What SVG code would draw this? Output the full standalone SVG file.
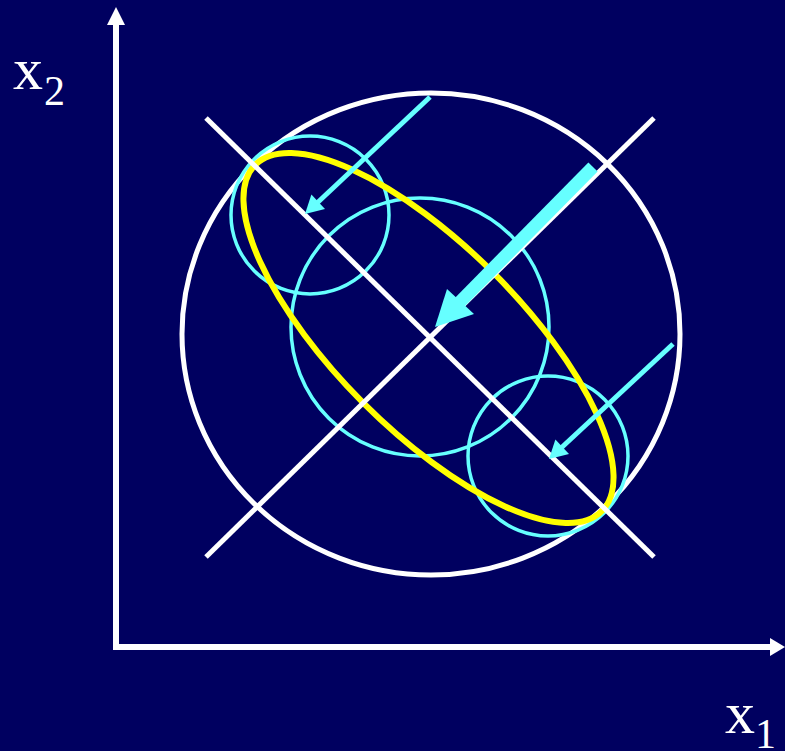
<svg xmlns="http://www.w3.org/2000/svg" width="785" height="751" viewBox="0 0 785 751">
<style>
.w{fill:none;stroke:#ffffff;stroke-width:5}
.c{fill:none;stroke:#66ffff;stroke-width:3.5}
.y{fill:none;stroke:#ffff00;stroke-width:6}
.ca{stroke:#66ffff;stroke-width:5;stroke-linecap:butt}
.ch{fill:#66ffff}
.ax{stroke:#ffffff;stroke-width:6}
.lbl{font-family:"Liberation Serif","Times New Roman",serif;fill:#ffffff}
</style>
<rect x="0" y="0" width="785" height="751" fill="#000060"/>
<g id="axes">
<line class="ax" x1="116" y1="650" x2="116" y2="22"/>
<polygon fill="#ffffff" points="116,7 107,25 125,25"/>
<line class="ax" x1="113" y1="647" x2="772" y2="647"/>
<polygon fill="#ffffff" points="785,647 770,638 770,656"/>
</g>
<g id="label-x2">
<text class="lbl" x="13" y="89" font-size="60">x</text>
<text class="lbl" x="44" y="105" font-size="42">2</text>
</g>
<g id="label-x1">
<text class="lbl" x="725" y="733" font-size="60">x</text>
<text class="lbl" x="755" y="748" font-size="42">1</text>
</g>
<g id="outer-circle">
<ellipse class="w" cx="431" cy="334" rx="249" ry="241"/>
</g>
<g id="cyan-circle-upper">
<circle class="c" cx="310" cy="215" r="79"/>
</g>
<g id="cyan-circle-middle">
<circle class="c" cx="420" cy="327" r="129"/>
</g>
<g id="cyan-circle-lower">
<circle class="c" cx="548" cy="456" r="80"/>
</g>
<g id="yellow-ellipse">
<ellipse class="y" cx="428.5" cy="338" rx="245" ry="92" transform="rotate(45 428.5 338)"/>
</g>
<g id="diagonals">
<line class="w" x1="206" y1="118" x2="654" y2="557"/>
<line class="w" x1="654" y1="118" x2="206" y2="557"/>
</g>
<g id="connectors">
<line class="ca" x1="430" y1="97" x2="316" y2="204"/>
<polygon class="ch" points="305,214 325,209 311.4,194.4"/>
<line class="ca" x1="673" y1="344" x2="560" y2="449"/>
<polygon class="ch" points="549,459 569,454 555.4,439.5"/>
<line stroke="#66ffff" stroke-width="13" x1="593" y1="167" x2="458" y2="304"/>
<polygon class="ch" points="435,327 447,289 474,314"/>
</g>
</svg>
